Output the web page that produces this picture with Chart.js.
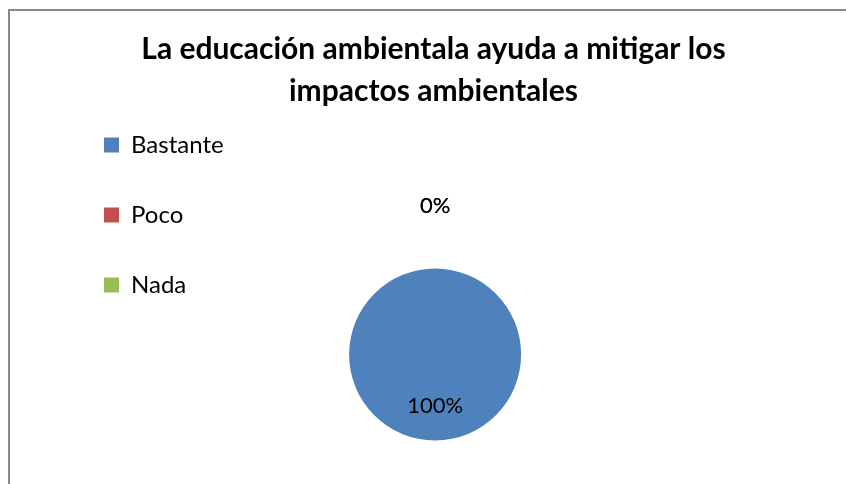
<!DOCTYPE html>
<html>
<head>
<meta charset="utf-8">
<script src="https://cdn.jsdelivr.net/npm/chart.js@4"></script>
<style>
  html, body { margin: 0; padding: 0; overflow: hidden; background: #fff; }
  #frame { position: absolute; left: 8px; top: 9px; width: 900px; height: 700px; border: 2px solid #898989; }
  #wrap { position: absolute; left: 0; top: 0; width: 846px; height: 630px; }
</style>
</head>
<body>
<div id="frame"></div>
<div id="wrap"><canvas id="pieChart"></canvas></div>
<script>
// Chart data
const categories = ['Bastante', 'Poco', 'Nada'];
const values = [100, 0, 0];
const sliceColors = ['#4F81BD', '#C0504D', '#9BBB59'];
const chartTitle = ['La educación ambientala ayuda a mitigar los', 'impactos ambientales'];

const total = values.reduce((a, b) => a + b, 0);

// Percent labels like Excel: inside for big slices, above the pie for empty ones
const percentLabels = {
  id: 'percentLabels',
  afterDatasetsDraw(chart) {
    const ctx = chart.ctx;
    const meta = chart.getDatasetMeta(0);
    ctx.save();
    ctx.font = '22px Lato';
    ctx.fillStyle = '#000';
    ctx.textAlign = 'center';
    ctx.textBaseline = 'middle';
    meta.data.forEach((arc, i) => {
      const v = values[i];
      const mid = (arc.startAngle + arc.endAngle) / 2;
      const dist = v > 0 ? arc.outerRadius * 0.6 : arc.outerRadius * 1.73;
      const x = arc.x + Math.cos(mid) * dist;
      const y = arc.y + Math.sin(mid) * dist;
      ctx.fillText(Math.round(v / total * 100) + '%', x, y);
    });
    ctx.restore();
  }
};

const ctx = document.getElementById('pieChart').getContext('2d');
new Chart(ctx, {
  type: 'pie',
  data: {
    labels: categories,
    datasets: [{
      data: values,
      backgroundColor: sliceColors,
      borderWidth: 0
    }]
  },
  options: {
    responsive: true,
    maintainAspectRatio: false,
    animation: false,
    radius: 86,
    layout: { padding: { left: 58, right: 37, top: 0, bottom: 8 } },
    plugins: {
      title: {
        display: true,
        text: chartTitle,
        color: '#000',
        font: { family: 'Lato', size: 30, weight: 'bold', lineHeight: 1.4 },
        padding: { top: 28, bottom: -25 }
      },
      // empty box on the right, only to push the pie toward the middle
      subtitle: {
        display: true,
        position: 'right',
        fullSize: false,
        text: '',
        padding: { top: 0, bottom: 158 }
      },
      legend: {
        position: 'left',
        align: 'start',
        fullSize: false,
        labels: {
          color: '#000',
          font: { family: 'Lato', size: 24 },
          boxWidth: 15,
          boxHeight: 15,
          padding: 46
        }
      },
      tooltip: { enabled: false }
    }
  },
  plugins: [percentLabels]
});
</script>
</body>
</html>
